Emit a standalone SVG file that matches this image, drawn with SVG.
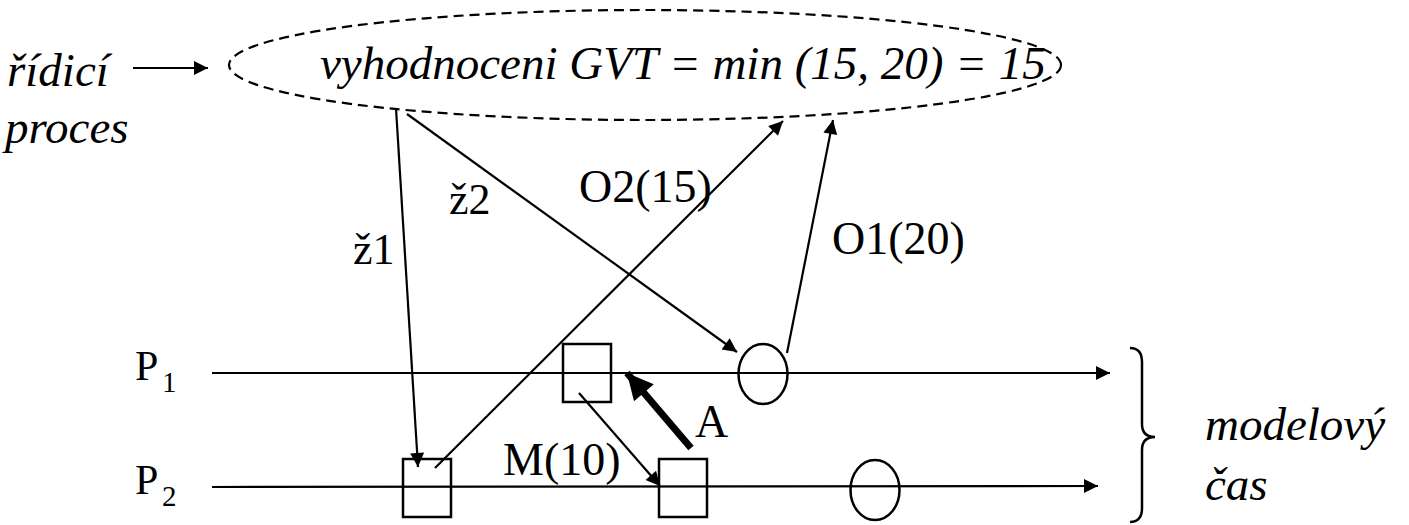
<svg xmlns="http://www.w3.org/2000/svg" width="1409" height="525" viewBox="0 0 1409 525" font-family="'Liberation Serif', 'Times New Roman', serif">
<defs>
<marker id="ah" viewBox="0 0 10 10" refX="10" refY="5" markerWidth="16" markerHeight="14" markerUnits="userSpaceOnUse" orient="auto"><path d="M0,0 L10,5 L0,10 z" fill="#000"/></marker>
<marker id="ahb" viewBox="0 0 10 10" refX="10" refY="5" markerWidth="30" markerHeight="26" markerUnits="userSpaceOnUse" orient="auto"><path d="M0,0 L10,5 L0,10 z" fill="#000"/></marker>
</defs>
<rect width="1409" height="525" fill="#fff"/>
<g id="control">
<ellipse cx="645" cy="65" rx="416" ry="55" fill="none" stroke="#000" stroke-width="2.2" stroke-dasharray="10 6"/>
<text x="320" y="79" font-family="serif" font-style="italic" font-size="47">vyhodnoceni GVT = min (15, 20) = 15</text>
</g>
<g id="label-control" font-family="serif" font-style="italic" font-size="47">
<text x="7" y="86">řídicí</text>
<text x="5" y="143">proces</text>
</g>
<g id="p1" font-family="serif">
<text x="135" y="380" font-size="42">P</text>
<text x="162" y="392" font-size="29">1</text>
</g>
<g id="p2" font-family="serif">
<text x="135" y="494" font-size="42">P</text>
<text x="162" y="506" font-size="29">2</text>
</g>
<g id="box-p1"><rect x="563" y="344" width="48" height="58" fill="none" stroke="#000" stroke-width="2.5"/></g>
<g id="box-p2a"><rect x="403" y="459" width="48" height="58" fill="none" stroke="#000" stroke-width="2.5"/></g>
<g id="box-p2b"><rect x="659" y="459" width="48" height="58" fill="none" stroke="#000" stroke-width="2.5"/></g>
<g id="circ-p1"><ellipse cx="763" cy="374" rx="24.5" ry="30" fill="none" stroke="#000" stroke-width="2.5"/></g>
<g id="circ-p2"><ellipse cx="875" cy="490" rx="24.5" ry="30" fill="none" stroke="#000" stroke-width="2.5"/></g>
<g id="brace"><path d="M1130,348 Q1142,348 1142,362 L1142,424 Q1142,437 1155,437 Q1142,437 1142,450 L1142,508 Q1142,522 1130,522" fill="none" stroke="#000" stroke-width="2.5"/></g>
<g id="label-time" font-family="serif" font-style="italic" font-size="47">
<text x="1205" y="440">modelový</text>
<text x="1205" y="500">čas</text>
</g>
<g id="connectors" stroke="#000" stroke-width="2.2" fill="none">
<line x1="133" y1="68" x2="208" y2="68" marker-end="url(#ah)"/>
<line x1="212" y1="373" x2="1110" y2="373" marker-end="url(#ah)"/>
<line x1="212" y1="487" x2="1098" y2="486" marker-end="url(#ah)"/>
<line x1="396" y1="108" x2="418" y2="467" marker-end="url(#ah)"/>
<line x1="407" y1="114" x2="737" y2="352" marker-end="url(#ah)"/>
<line x1="435" y1="468" x2="783" y2="121" marker-end="url(#ah)"/>
<line x1="787" y1="353" x2="833" y2="120" marker-end="url(#ah)"/>
<line x1="579" y1="393" x2="660" y2="486" marker-end="url(#ah)"/>
<line x1="691" y1="448" x2="627" y2="373" stroke-width="7" marker-end="url(#ahb)"/>
</g>
<g id="connector-labels" font-family="serif" font-size="46">
<text x="353" y="264" font-size="44">ž1</text>
<text x="449" y="214" font-size="44">ž2</text>
<text x="579" y="202">O2(15)</text>
<text x="832" y="254">O1(20)</text>
<text x="503" y="475">M(10)</text>
<text x="695" y="437">A</text>
</g>
</svg>
